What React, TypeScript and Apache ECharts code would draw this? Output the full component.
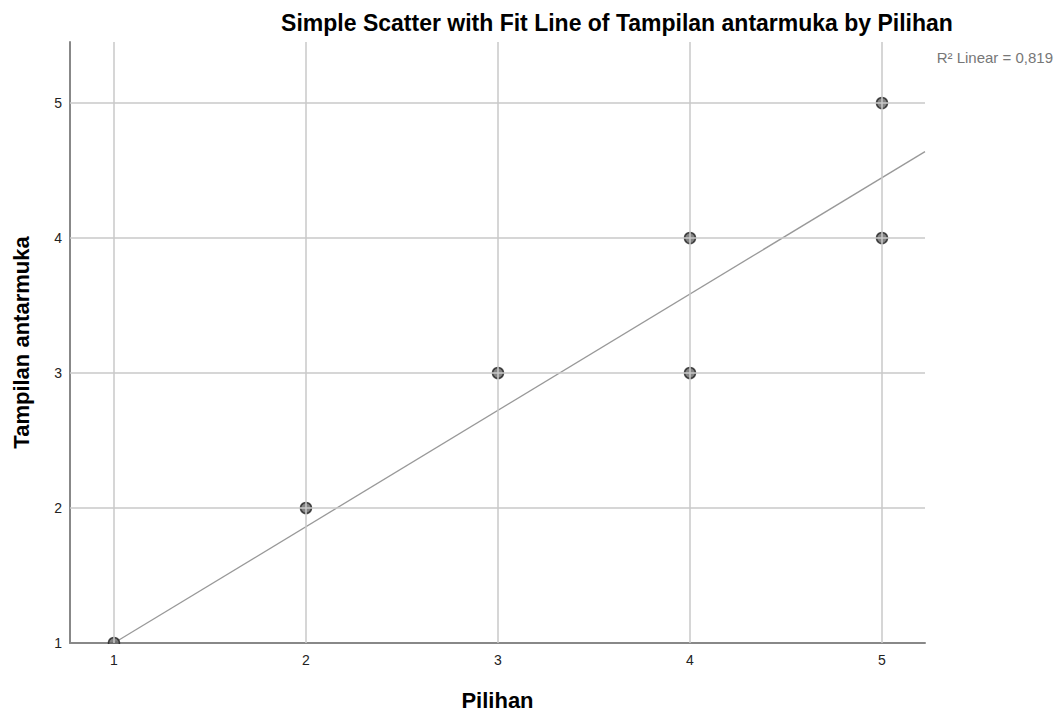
import React, { useEffect, useRef } from "react";
import * as echarts from "echarts";

const pointsX = [1, 2, 3, 4, 4, 5, 5];
const pointsY = [1, 2, 3, 4, 3, 5, 4];
const fitX = [1, 5.224];
const fitY = [1, 4.64];
const xTicks = [1, 2, 3, 4, 5];
const yTicks = [1, 2, 3, 4, 5];
const titleText = "Simple Scatter with Fit Line of Tampilan antarmuka by Pilihan";
const r2Label = "R² Linear = 0,819";

export default function App() {
  const ref = useRef<HTMLDivElement>(null);
  useEffect(() => {
    if (!ref.current) return;
    const chart = echarts.init(ref.current, null, { renderer: "svg" });
    const font = "'Liberation Sans', Arial, sans-serif";
    chart.setOption({
      animation: false,
      backgroundColor: "#ffffff",
      title: {
        text: titleText,
        left: 612,
        textAlign: "center",
        top: 6,
        textStyle: { fontFamily: font, fontSize: 23, fontWeight: "bold", color: "#000" },
      },
      graphic: [
        {
          type: "text",
          right: 2,
          top: 50,
          style: { text: r2Label, font: `15px ${font}`, fill: "#777" },
        },
        {
          type: "rect",
          shape: { x: 70, y: 644, width: 856, height: 7 },
          style: { fill: "#ffffff" },
          z: 100,
          silent: true,
        },
      ],
      grid: { left: 70, right: 130, top: 42, bottom: 70, outerBoundsMode: "none" },
      xAxis: {
        type: "value",
        min: 0.771,
        max: 5.224,
        name: "Pilihan",
        nameLocation: "middle",
        nameGap: 46,
        nameTextStyle: { fontFamily: font, fontSize: 22, fontWeight: "bold", color: "#000" },
        axisLine: { show: true, lineStyle: { color: "#888", width: 2 } },
        axisTick: { show: false },
        splitLine: { show: false },
        axisLabel: {
          fontFamily: font,
          fontSize: 14,
          color: "#222",
          margin: 10,
          customValues: xTicks,
        },
      },
      yAxis: {
        type: "value",
        min: 1,
        max: 5.452,
        name: "Tampilan antarmuka",
        nameLocation: "middle",
        nameGap: 38,
        nameTextStyle: { fontFamily: font, fontSize: 22, fontWeight: "bold", color: "#000" },
        axisLine: { show: true, onZero: false, lineStyle: { color: "#888", width: 2 } },
        axisTick: { show: false },
        splitLine: { show: false },
        axisLabel: {
          fontFamily: font,
          fontSize: 14,
          color: "#222",
          margin: 8,
          customValues: yTicks,
        },
      },
      series: [
        {
          type: "line",
          silent: true,
          symbol: "none",
          data: [],
          markLine: {
            silent: true,
            symbol: "none",
            label: { show: false },
            lineStyle: { color: "#c8c8c8", width: 1.5, type: "solid" },
            data: [
              ...xTicks.map((v) => ({ xAxis: v })),
              ...yTicks.filter((v) => v !== 1).map((v) => ({ yAxis: v })),
            ],
          },
        },
        {
          type: "line",
          data: fitX.map((x, i) => [x, fitY[i]]),
          symbol: "none",
          lineStyle: { color: "#999", width: 1.3 },
          z: 3,
        },
        {
          type: "scatter",
          data: pointsX.map((x, i) => [x, pointsY[i]]),
          symbolSize: 11,
          itemStyle: { color: "#666", borderColor: "#222", borderWidth: 1.5 },
          z: 4,
        },
      ],
    });
    return () => chart.dispose();
  }, []);
  return <div ref={ref} style={{ width: 1055, height: 713, position: "absolute", left: 0, top: 0 }} />;
}
